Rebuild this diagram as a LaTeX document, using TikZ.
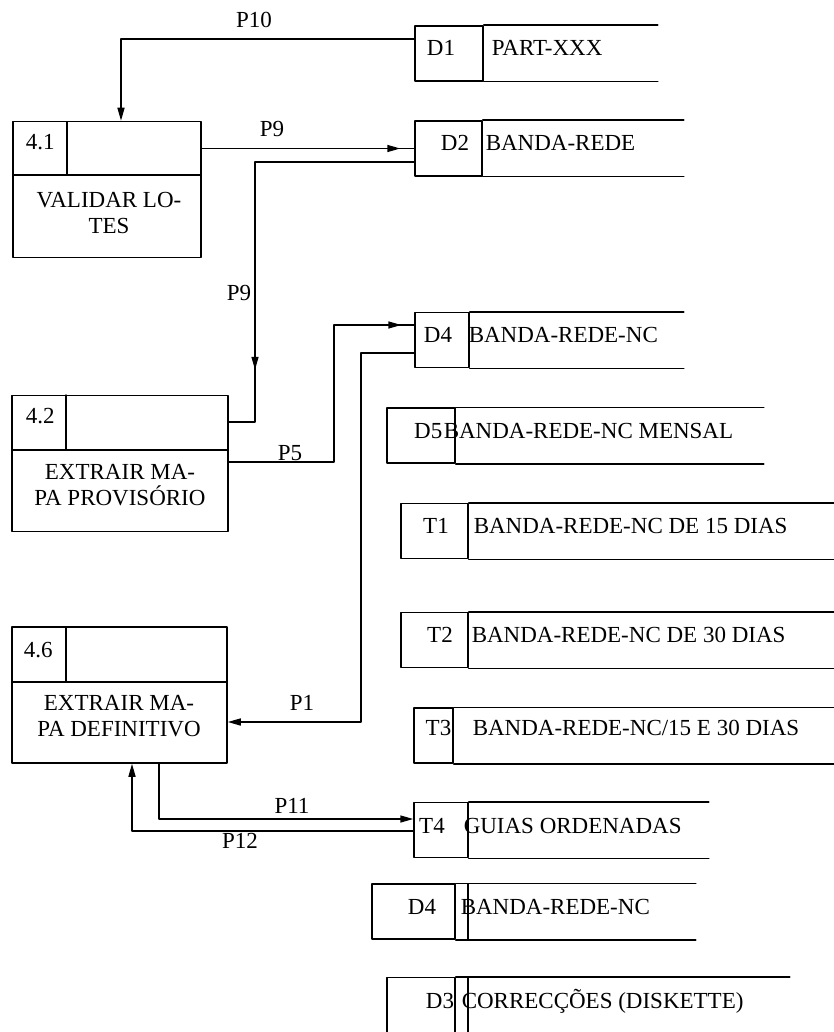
\documentclass[tikz,border=0pt]{standalone}
\usepackage{fontspec}
\setmainfont{Liberation Serif}
\usetikzlibrary{arrows.meta,decorations.markings}

\begin{document}
\begin{tikzpicture}[x=1pt, y=-1pt, line width=1.5pt, line cap=round, line join=round,
    font=\fontsize{23}{26}\selectfont,
    flowtip/.tip={Triangle[length=13pt,width=7pt]},
    flow/.style={-{flowtip}},
    arrowat/.style={postaction={decorate},
      decoration={markings, mark=at position #1 with {\arrow{flowtip}}}},
    proc/.style={draw, minimum width=#1, minimum height=136pt, inner sep=0pt},
    cell/.style={draw, minimum width=#1, minimum height=55pt, inner sep=0pt},
    idtxt/.style={inner sep=0pt, anchor=base},
    nametxt/.style={inner sep=0pt, anchor=base west},
    ptxt/.style={inner sep=0pt, anchor=north, align=center},
    lbl/.style={inner sep=0pt, anchor=base}]
  \useasboundingbox (0,0) rectangle (833,1032);

  % processes
  \node[proc=188pt] (p41) at (107,189.5) {};
  \draw (13,175) -- (201,175);
  \draw (67,122) -- (67,175);
  \node[nametxt] (p41n) at (25,150) {4.1};
  \node[ptxt] (p41t) at (109,192) {VALIDAR LO-\\TES};

  \node[proc=216pt] (p42) at (120,463.5) {};
  \draw (12,450) -- (228,450);
  \draw (66,395) -- (66,450);
  \node[nametxt] (p42n) at (25,423) {4.2};
  \node[ptxt] (p42t) at (120,464) {EXTRAIR MA-\\PA PROVISÓRIO};

  \node[proc=215pt] (p46) at (119.5,695) {};
  \draw (12,682) -- (227,682);
  \draw (66,627) -- (66,682);
  \node[nametxt] (p46n) at (23,657) {4.6};
  \node[ptxt] (p46t) at (119,695) {EXTRAIR MA-\\PA DEFINITIVO};

  % stores
  \node[cell=68pt] (d1) at (449,53.5) {};
  \draw (d1.north east) -- ++(174,0) (d1.south east) -- ++(174,0);
  \node[idtxt] (d1i) at (441,56) {D1};
  \node[nametxt] (d1n) at (491,56) {PART-XXX};

  \node[cell=67pt] (d2) at (448.5,148.5) {};
  \draw (d2.north east) -- ++(201,0) (d2.south east) -- ++(201,0);
  \node[idtxt] (d2i) at (455,151) {D2};
  \node[nametxt] (d2n) at (485,151) {BANDA-REDE};

  \node[cell=54pt] (d4) at (442,340) {};
  \draw (d4.north east) -- ++(214,0) (d4.south east) -- ++(214,0);
  \node[idtxt] (d4i) at (438,342) {D4};
  \node[nametxt] (d4n) at (468,342) {BANDA-REDE-NC};

  \node[cell=68pt] (d5) at (421,435.5) {};
  \draw (d5.north east) -- ++(308,0) (d5.south east) -- ++(308,0);
  \node[idtxt, anchor=base east] (d5i) at (443,438) {D5};
  \node[nametxt] (d5n) at (443,438) {BANDA-REDE-NC MENSAL};

  \node[cell=67pt] (t1) at (434.5,531) {};
  \draw (t1.north east) -- ++(365,0) (t1.south east) -- ++(365,0);
  \node[idtxt] (t1i) at (436,533) {T1};
  \node[nametxt] (t1n) at (473,533) {BANDA-REDE-NC DE 15 DIAS};

  \node[cell=67pt] (t2) at (434.5,640) {};
  \draw (t2.north east) -- ++(365,0) (t2.south east) -- ++(365,0);
  \node[idtxt] (t2i) at (440,642) {T2};
  \node[nametxt] (t2n) at (471,642) {BANDA-REDE-NC DE 30 DIAS};

  \node[cell=39pt] (t3) at (433.5,735.5) {};
  \draw (t3.north east) -- ++(380,0) (t3.south east) -- ++(380,0);
  \node[idtxt] (t3i) at (438.5,735) {T3};
  \node[nametxt] (t3n) at (472,735) {BANDA-REDE-NC/15 E 30 DIAS};

  \node[cell=54pt] (t4) at (441,830) {};
  \draw (t4.north east) -- ++(240,0) (t4.south east) -- ++(240,0);
  \node[idtxt] (t4i) at (432,833) {T4};
  \node[nametxt] (t4n) at (463,833) {GUIAS ORDENADAS};

  \node[cell=83pt] (d4b) at (413.5,911.5) {};
  \draw (d4b.north east) -- ++(240,0) (d4b.south east) -- ++(240,0);
  \draw (468,884) -- (468,939);
  \node[idtxt] (d4bi) at (422,914) {D4};
  \node[nametxt] (d4bn) at (460,914) {BANDA-REDE-NC};

  \node[cell=68pt] (d3) at (421,1005) {};
  \draw (d3.north east) -- ++(334,0) (d3.south east) -- ++(334,0);
  \draw (468,978) -- (468,1032);
  \node[idtxt] (d3i) at (440,1008) {D3};
  \node[nametxt] (d3n) at (461,1008) {CORRECÇÕES (DISKETTE)};

  % flows
  \draw[flow] ([yshift=14.5pt]d1.west) -| ([xshift=14pt]p41.north);
  \node[lbl] (lp10) at (254,28) {P10};

  \draw[arrowat=-14pt] (p41.east |- d2.west) -- (d2.west);
  \node[lbl] (lp9a) at (272,137) {P9};

  \coordinate (b9) at (255,422);
  \draw[arrowat=367pt] ([yshift=-13.5pt]d2.west) -| (b9) -- (b9 -| p42.east);
  \node[lbl] (lp9b) at (239,300) {P9};

  \coordinate (b5) at (334,462);
  \draw[arrowat=-13pt] (b5 -| p42.east) -- (b5) |- ([yshift=15pt]d4.west);
  \node[lbl] (lp5) at (290,460) {P5};

  \coordinate (b1) at (361,722);
  \draw[flow] ([yshift=-13pt]d4.west) -| (b1) -- (b1 -| p46.east);
  \node[lbl] (lp1) at (302,710) {P1};

  \coordinate (b11) at (159,819);
  \draw[flow] (b11 |- p46.south) -- (b11) -- (b11 -| t4.west);
  \node[lbl] (lp11) at (292,813) {P11};

  \coordinate (b12) at (132,831);
  \draw[flow] (b12 -| t4.west) -- (b12) -- (b12 |- p46.south);
  \node[lbl] (lp12) at (240,848) {P12};
\end{tikzpicture}
\end{document}
